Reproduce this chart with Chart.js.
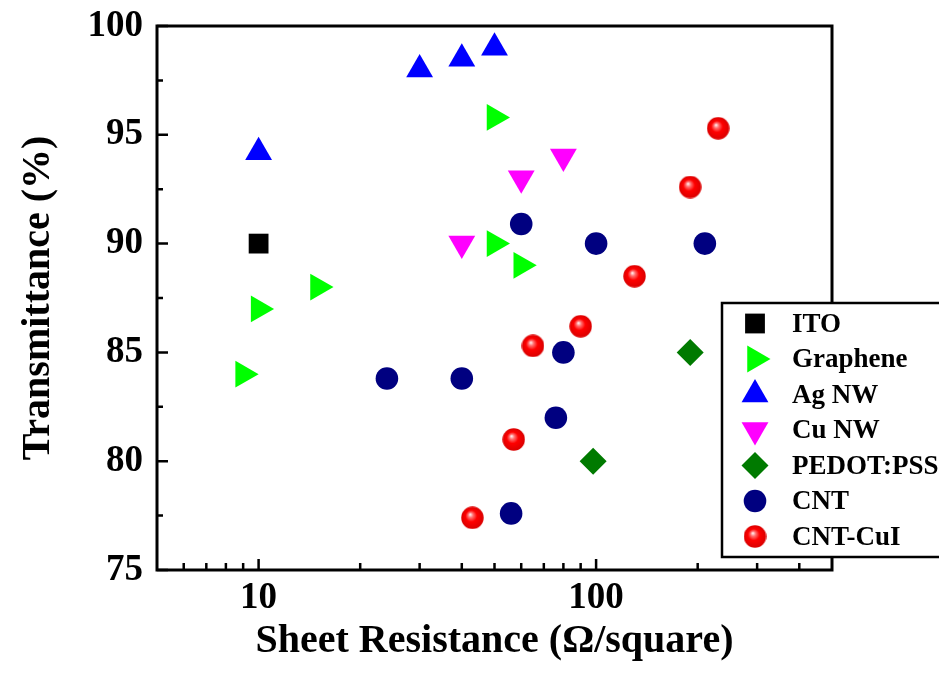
<!DOCTYPE html>
<html>
<head>
<meta charset="utf-8">
<script src="https://cdn.jsdelivr.net/npm/chart.js@4.4.0/dist/chart.umd.min.js"></script>
<style>
  html, body { margin: 0; padding: 0; background: #fff; }
  #wrap { width: 939px; height: 674px; }
</style>
</head>
<body>
<div id="wrap"><canvas id="chart" width="939" height="674"></canvas></div>
<script>
// data (x = sheet resistance, y = transmittance)
const seriesNames = ['ITO', 'Graphene', 'Ag NW', 'Cu NW', 'PEDOT:PSS', 'CNT', 'CNT-CuI'];

const itoX = [10];
const itoY = [90];
const grapheneX = [9, 10, 15, 50, 50, 60];
const grapheneY = [84, 87, 88, 95.8, 90, 89];
const agnwX = [10, 30, 40, 50];
const agnwY = [94.2, 98, 98.5, 99];
const cunwX = [40, 60, 80];
const cunwY = [90, 93, 94];
const pedotX = [98, 190];
const pedotY = [80, 85];
const cntX = [24, 40, 56, 60, 76, 80, 100, 210];
const cntY = [83.8, 83.8, 77.6, 90.9, 82, 85, 90, 90];
const cntcuiX = [43, 57, 65, 90, 130, 190, 230];
const cntcuiY = [77.4, 81, 85.3, 86.2, 88.5, 92.6, 95.3];

const xTickLabels = [10, 100];
const xMinorTicks = [6, 7, 8, 9, 20, 30, 40, 50, 60, 70, 80, 90, 200, 300, 400];
const yTickLabels = [75, 80, 85, 90, 95, 100];
const yMinorTicks = [77.5, 82.5, 87.5, 92.5, 97.5];

const FONT = 'Liberation Serif';

// shiny red ball used for CNT-CuI
function makeBall(d) {
    const c = document.createElement('canvas');
    c.width = d; c.height = d;
    const g = c.getContext('2d');
    const r = d / 2;
    const grad = g.createRadialGradient(r * 0.8, r * 0.7, 0, r, r, r);
    grad.addColorStop(0, '#ffffff');
    grad.addColorStop(0.22, '#ff7070');
    grad.addColorStop(0.5, '#ff0000');
    grad.addColorStop(1, '#d80000');
    g.fillStyle = grad;
    g.beginPath();
    g.arc(r, r, r - 0.3, 0, Math.PI * 2);
    g.fill();
    return c;
}
const ball = makeBall(23);

const mk = (label, xs, ys, style, color, radius, rotation) => ({
    label: label,
    data: xs.map((x, i) => ({ x: x, y: ys[i] })),
    pointStyle: style,
    pointRadius: radius,
    pointHoverRadius: radius,
    pointRotation: rotation || 0,
    pointBackgroundColor: color,
    pointBorderColor: color,
    pointBorderWidth: 0,
    showLine: false
});

const datasets = [
    mk(seriesNames[0], itoX, itoY, 'rect', '#000000', 14),
    mk(seriesNames[1], grapheneX, grapheneY, 'triangle', '#00ff00', 15.5, 90),
    mk(seriesNames[2], agnwX, agnwY, 'triangle', '#0000ff', 15.5),
    mk(seriesNames[3], cunwX, cunwY, 'triangle', '#ff00ff', 15.5, 180),
    mk(seriesNames[4], pedotX, pedotY, 'rectRot', '#007a00', 13.5),
    mk(seriesNames[5], cntX, cntY, 'circle', '#000080', 11.3),
    mk(seriesNames[6], cntcuiX, cntcuiY, ball, '#ff0000', 11.5)
];

// frame + inward tick marks
const framePlugin = {
    id: 'frame',
    beforeDatasetsDraw(chart) {
        const { ctx, chartArea: a, scales: { x, y } } = chart;
        ctx.save();
        ctx.strokeStyle = '#000';
        ctx.lineWidth = 3;
        ctx.strokeRect(a.left, a.top, a.right - a.left, a.bottom - a.top);
        ctx.lineWidth = 2.5;
        ctx.beginPath();
        xTickLabels.forEach(v => { const p = x.getPixelForValue(v); ctx.moveTo(p, a.bottom); ctx.lineTo(p, a.bottom - 11); });
        xMinorTicks.forEach(v => { const p = x.getPixelForValue(v); ctx.moveTo(p, a.bottom); ctx.lineTo(p, a.bottom - 7); });
        yTickLabels.forEach(v => { const p = y.getPixelForValue(v); ctx.moveTo(a.left, p); ctx.lineTo(a.left + 11, p); });
        yMinorTicks.forEach(v => { const p = y.getPixelForValue(v); ctx.moveTo(a.left, p); ctx.lineTo(a.left + 6, p); });
        ctx.stroke();
        ctx.restore();
    }
};

// boxed legend sitting over the right edge of the plot
const legendBox = {
    id: 'legendBox',
    afterDraw(chart) {
        const ctx = chart.ctx;
        const bx = 722, by = 303, bw = 240, bh = 254;
        ctx.save();
        ctx.fillStyle = '#fff';
        ctx.fillRect(bx, by, bw, bh);
        ctx.strokeStyle = '#000';
        ctx.lineWidth = 2.5;
        ctx.strokeRect(bx, by, bw, bh);
        ctx.font = 'bold 27px "' + FONT + '"';
        ctx.textBaseline = 'middle';
        ctx.textAlign = 'left';
        chart.data.datasets.forEach((ds, i) => {
            const cy = 323.5 + i * 35.5;
            ctx.fillStyle = ds.pointBackgroundColor;
            ctx.strokeStyle = ds.pointBorderColor;
            Chart.helpers.drawPoint(ctx, {
                pointStyle: ds.pointStyle,
                radius: ds.pointRadius,
                rotation: ds.pointRotation,
                borderWidth: 0
            }, 755, cy);
            ctx.fillStyle = '#000';
            ctx.fillText(ds.label, 792, cy + 1.5);
        });
        ctx.restore();
    }
};

new Chart(document.getElementById('chart'), {
    type: 'scatter',
    data: { datasets: datasets },
    options: {
        responsive: false,
        animation: false,
        devicePixelRatio: 1,
        layout: { padding: { top: 26, right: 107, bottom: 0, left: 0 } },
        plugins: { legend: { display: false }, tooltip: { enabled: false } },
        scales: {
            x: {
                type: 'logarithmic',
                min: 5,
                max: 500,
                afterBuildTicks: s => { s.ticks = xTickLabels.map(v => ({ value: v })); },
                afterFit: s => { s.height = 104; s.paddingLeft = 0; s.paddingRight = 0; },
                grid: { display: false, drawTicks: false },
                border: { display: false },
                ticks: {
                    color: '#000',
                    padding: 6,
                    autoSkip: false,
                    maxRotation: 0,
                    font: { family: FONT, size: 37, weight: 'bold' },
                    callback: v => String(v)
                },
                title: {
                    display: true,
                    text: 'Sheet Resistance (Ω/square)',
                    color: '#000',
                    font: { family: FONT, size: 40, weight: 'bold' },
                    padding: { top: 0, bottom: 8 }
                }
            },
            y: {
                min: 75,
                max: 100,
                afterBuildTicks: s => { s.ticks = yTickLabels.map(v => ({ value: v })); },
                afterFit: s => { s.width = 157; s.paddingTop = 0; s.paddingBottom = 0; },
                grid: { display: false, drawTicks: false },
                border: { display: false },
                ticks: {
                    color: '#000',
                    padding: 14,
                    font: { family: FONT, size: 37, weight: 'bold' }
                },
                title: {
                    display: true,
                    text: 'Transmittance (%)',
                    color: '#000',
                    font: { family: FONT, size: 40, weight: 'bold' },
                    padding: { top: 15, bottom: 0 }
                }
            }
        }
    },
    plugins: [framePlugin, legendBox]
});
</script>
</body>
</html>
